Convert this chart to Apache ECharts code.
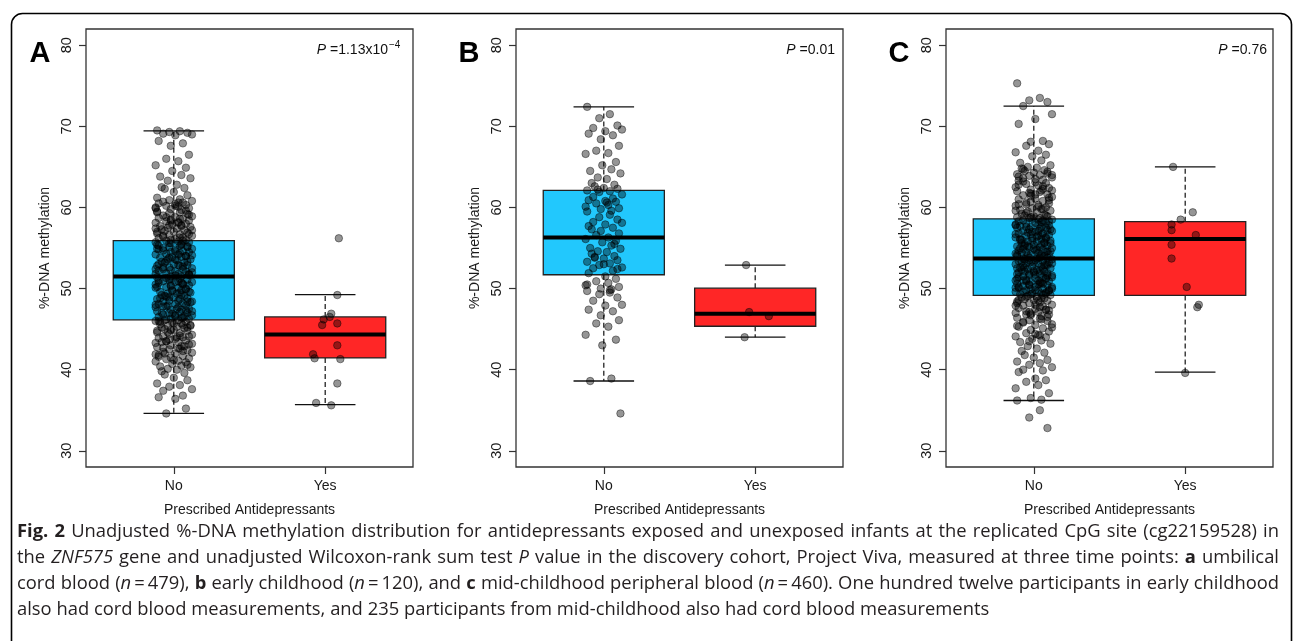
<!DOCTYPE html>
<html><head><meta charset="utf-8">
<script src="https://cdn.jsdelivr.net/npm/echarts@6/dist/echarts.min.js"></script>
<style>html,body{margin:0;padding:0;background:#fff}#c{width:1295px;height:641px}</style>
</head><body><div id="c"></div>
<script>
// ---------- data ----------
const categories = ['No', 'Yes'];
const yTicks = [30, 40, 50, 60, 70, 80];
const panelLetters = ['A', 'B', 'C'];
const pValues = ['1.13x10', '0.01', '0.76'];
const pExponent = ['−4', '', ''];

// box stats: [lower whisker, Q1, median, Q3, upper whisker]
const boxA = [[34.6, 46.15, 51.5, 55.9, 69.45], [35.7, 41.45, 44.35, 46.5, 49.25]];
const boxB = [[38.6, 51.7, 56.3, 62.1, 72.4], [44.0, 45.35, 46.9, 50.05, 52.9]];
const boxC = [[36.2, 49.15, 53.7, 58.6, 72.5], [39.7, 49.15, 56.1, 58.25, 65.0]];

// jitter offsets (category units) for the large groups
const jit = [-0.11,0.04,-0.03,0.09,-0.07,0.12,0.01,-0.10,0.06,-0.02,0.10,-0.05,0.03,-0.12,0.08,-0.01,0.05,-0.09,0.11,-0.04,0.02,-0.08,0.07,-0.06,0.00,0.09,-0.11,0.04,-0.03,0.12,-0.07,0.06,-0.10,0.01,0.08,-0.05,0.03,-0.12,0.10,-0.02,0.05];

const aNo = [69.5,69.4,69.3,69.2,69.1,69.0,68.9,68.2,67.9,67.6,66.5,66.0,65.7,65.2,64.9,64.5,64.0,63.8,63.6,63.3,62.8,62.5,62.4,62.3,61.9,61.5,61.2,61.0,60.9,60.8,60.7,60.6,60.5,60.4,60.3,60.2,60.1,60.0,59.9,59.8,59.7,59.5,59.4,59.3,59.2,59.0,58.9,58.8,58.7,58.6,58.5,58.4,58.3,58.2,58.1,58.0,57.9,57.8,57.7,57.6,57.5,57.4,57.3,57.2,57.1,57.0,56.9,56.8,56.7,56.6,56.5,56.4,56.3,56.2,56.1,56.0,
55.9,55.8,55.7,55.7,55.6,55.4,55.4,55.3,55.1,55.1,55.0,54.9,54.8,54.8,54.6,54.5,54.5,54.3,54.2,54.2,54.0,53.9,53.9,53.8,53.6,53.6,53.5,53.3,53.2,53.2,53.0,52.9,52.8,52.8,52.6,52.5,52.4,52.4,52.2,52.1,52.1,51.9,51.8,51.8,51.7,51.5,51.5,51.4,51.2,51.1,51.1,50.9,50.8,50.8,50.7,50.5,50.4,50.4,50.2,50.1,50.1,49.9,49.8,49.8,49.6,49.5,49.4,49.4,49.2,49.1,49.1,48.9,48.8,48.7,48.7,48.5,48.4,48.4,48.2,48.1,48.1,47.9,47.8,47.7,47.7,47.5,47.4,47.4,47.2,47.1,47.0,47.0,46.8,46.7,46.7,46.5,46.4,46.3,46.3,46.2,
46.1,46.0,45.9,45.8,45.7,45.6,45.5,45.4,45.3,45.2,45.1,45.0,44.9,44.8,44.6,44.5,44.4,44.3,44.1,44.0,43.9,43.8,43.6,43.5,43.4,43.3,43.1,43.0,42.9,42.8,42.6,42.5,42.4,42.2,42.1,42.0,41.8,41.7,41.5,41.4,41.3,41.1,41.0,40.9,40.7,40.5,40.4,40.3,40.1,40.0,39.8,39.6,39.4,39.0,38.7,38.3,38.1,37.9,37.6,37.4,36.8,36.6,36.4,35.2,34.6,
60.6,59.9,59.1,58.4,57.7,57.0,56.3,55.6,55.2,54.7,54.1,53.6,53.0,52.7,52.3,51.8,51.3,50.9,50.5,50.0,49.7,49.2,48.8,48.3,47.9,47.5,47.0,46.6,46.1,45.7,45.2,44.8,44.2,43.7,43.2,42.7,42.3,41.6,
60.2,59.6,58.8,58.1,57.4,56.7,56.0,55.5,54.9,54.4,53.8,53.3,52.6,52.0,51.6,51.0,50.6,50.3,49.6,49.0,48.5,48.0,47.3,46.9,46.4,45.9,45.4,44.6,44.0,43.4,42.9,42.0,41.2,40.6,
59.4,58.6,57.8,57.2,56.5,55.9,55.3,54.6,54.0,53.4,52.9,52.4,51.7,51.2,50.7,50.2,49.5,48.9,48.4,47.8,47.2,46.6,46.0,45.5,44.9,44.1,43.5,42.6,41.9];
const aYes = [56.2,49.2,46.9,46.5,46.2,45.7,45.5,43.0,41.9,41.4,41.3,38.3,35.9,35.6];
const aYesJit = [0.09,0.08,0.04,0.03,-0.01,0.08,-0.02,0.08,-0.08,-0.07,0.10,0.08,-0.06,0.04];

const bNo = [72.4,71.5,71.0,70.1,69.8,69.6,69.4,69.1,68.9,68.4,67.6,67.0,66.7,66.6,65.6,65.2,64.7,64.5,64.2,63.7,63.5,63.0,62.8,62.6,62.4,62.3,62.1,62.0,61.9,61.6,61.3,61.1,60.9,60.8,60.7,60.5,60.3,60.1,59.9,59.8,59.6,59.5,59.1,58.8,58.5,58.2,58.1,57.9,57.7,57.5,57.1,56.8,56.6,56.3,56.1,55.9,55.7,55.3,55.0,54.9,54.6,54.5,54.3,54.0,53.9,53.7,53.5,53.3,53.1,52.9,52.6,52.5,52.2,51.9,51.5,51.2,50.9,50.7,50.4,50.2,50.0,49.9,49.7,49.5,49.3,48.9,48.5,48.0,47.9,47.4,47.2,46.7,46.1,45.7,45.3,44.3,43.7,43.0,38.9,38.6,34.6,
62.2,60.6,57.3,55.5,53.8,53.0,52.4,50.5,49.8];
const bYes = [52.9,47.1,46.6,44.0];
const bYesJit = [-0.06,-0.04,0.09,-0.07];

const cNo = [75.3,73.5,73.2,73.0,72.5,71.5,70.9,70.3,68.2,68.1,67.8,67.6,67.0,66.8,66.5,66.3,65.8,65.5,65.2,65.0,64.9,64.8,64.6,64.5,64.3,64.2,64.1,64.0,63.9,63.7,63.6,63.4,63.3,63.1,63.0,62.9,62.7,62.5,62.4,62.2,62.1,62.0,61.9,61.8,61.6,61.5,61.3,61.1,61.0,60.8,60.7,60.5,60.4,60.3,60.2,60.0,59.9,59.8,59.7,59.6,59.5,59.4,59.2,59.1,59.0,58.9,58.9,58.8,58.7,58.7,
58.5,58.4,58.4,58.3,58.1,58.1,58.0,57.9,57.8,57.8,57.6,57.6,57.5,57.4,57.3,57.2,57.1,57.1,57.0,56.8,56.8,56.7,56.6,56.5,56.5,56.3,56.2,56.2,56.1,56.0,55.9,55.8,55.8,55.6,55.6,55.5,55.4,55.3,55.2,55.1,55.1,55.0,54.9,54.8,54.7,54.7,54.5,54.5,54.4,54.3,54.2,54.2,54.1,54.0,53.9,53.8,53.8,53.7,53.6,53.5,53.4,53.4,53.3,53.2,53.1,53.1,53.0,52.9,52.7,52.7,52.6,52.5,52.4,52.3,52.3,52.1,52.1,52.0,51.9,51.8,51.8,51.7,51.6,51.5,51.4,51.4,51.3,51.2,51.1,51.0,51.0,50.9,50.8,50.7,50.6,50.6,50.5,50.4,50.3,50.2,50.2,50.1,50.0,49.9,49.8,49.8,49.7,49.6,49.5,49.4,49.4,49.3,49.2,
49.1,49.0,48.9,48.8,48.7,48.6,48.5,48.4,48.3,48.2,48.0,47.9,47.8,47.6,47.5,47.4,47.2,47.1,47.0,46.8,46.7,46.6,46.4,46.3,46.1,46.0,45.8,45.6,45.5,45.3,45.1,44.9,44.7,44.5,44.3,44.1,44.0,43.8,43.6,43.4,43.2,42.9,42.6,42.3,42.1,41.8,41.5,41.2,41.0,40.8,40.6,40.3,40.0,39.9,39.7,38.9,38.7,38.5,38.1,37.7,37.1,36.5,36.3,36.2,35.0,34.1,32.8,
64.7,64.0,63.5,62.8,62.3,61.7,61.2,60.6,60.1,59.6,59.0,58.6,58.2,57.7,57.3,56.9,56.4,56.0,55.7,55.3,54.9,54.6,54.2,53.8,53.5,53.1,52.8,52.4,52.0,51.7,51.3,50.9,50.5,50.1,49.7,49.3,48.8,48.2,47.7,47.1,46.5,45.9,45.2,44.4,
63.8,62.6,61.4,60.9,59.3,58.5,57.9,57.5,57.0,56.6,56.1,55.6,55.2,54.8,54.4,54.0,53.6,53.2,52.9,52.5,52.2,51.8,51.4,51.0,50.6,50.2,49.8,49.4,49.0,48.5,47.9,47.3,46.9,46.2,45.4,44.2,43.5,
64.4,63.2,62.1,61.6,60.4,59.8,58.8,58.3,57.6,57.1,56.7,56.3,55.9,55.4,55.0,54.6,54.1,53.7,53.3,52.9,52.6,52.2,51.6,51.2,50.8,50.4,50.0,49.6,49.2,48.6,48.0,47.4,46.8];
const cYes = [65.0,59.4,58.5,57.9,57.2,56.6,55.4,53.7,50.2,48.0,47.7,39.6];
const cYesJit = [-0.08,0.05,-0.03,-0.09,-0.09,0.07,-0.09,-0.09,0.01,0.09,0.08,0.00];

const captionLines = [
  [['Fig. 2','b'],[' Unadjusted %-DNA methylation distribution for antidepressants exposed and unexposed infants at the replicated CpG site (cg22159528) in','']],
  [['the ',''],['ZNF575','i'],[' gene and unadjusted Wilcoxon-rank sum test ',''],['P','i'],[' value in the discovery cohort, Project Viva, measured at three time points: ',''],['a','b'],[' umbilical','']],
  [['cord blood (',''],['n','i'],['\u2009=\u2009479), ',''],['b','b'],[' early childhood (',''],['n','i'],['\u2009=\u2009120), and ',''],['c','b'],[' mid-childhood peripheral blood (',''],['n','i'],['\u2009=\u2009460). One hundred twelve participants in early childhood','']],
  [['also had cord blood measurements, and 235 participants from mid-childhood also had cord blood measurements','']]
];

// ---------- layout / style ----------
const BLUE = '#22C8FD', RED = '#FF2626';
const AX_FONT = 'Liberation Sans';
const gridLefts = [86, 516, 946];
const GRID_TOP = 29, GRID_W = 327, GRID_H = 438;

const chart = echarts.init(document.getElementById('c'), null, {renderer: 'canvas'});

function renderBox(params, api) {
  const x = api.value(0);
  const vals = [1,2,3,4,5].map(k => api.value(k));
  const p = vals.map(v => api.coord([x, v]));
  const hw = api.size([0.4, 0])[0];
  const cw = hw / 2;
  const cx = p[0][0];
  const fill = params.dataIndex === 0 ? BLUE : RED;
  const dash = {stroke: '#111', lineWidth: 1.2, lineDash: [5, 3]};
  const solid = {stroke: '#111', lineWidth: 1.3};
  return {type: 'group', children: [
    {type: 'line', shape: {x1: cx, y1: p[3][1], x2: cx, y2: p[4][1]}, style: dash},
    {type: 'line', shape: {x1: cx, y1: p[1][1], x2: cx, y2: p[0][1]}, style: dash},
    {type: 'line', shape: {x1: cx - cw, y1: p[4][1], x2: cx + cw, y2: p[4][1]}, style: solid},
    {type: 'line', shape: {x1: cx - cw, y1: p[0][1], x2: cx + cw, y2: p[0][1]}, style: solid},
    {type: 'rect', shape: {x: cx - hw, y: p[3][1], width: 2 * hw, height: p[1][1] - p[3][1]}, style: {fill: fill, stroke: '#222', lineWidth: 1.3}},
    {type: 'line', shape: {x1: cx - hw, y1: p[2][1], x2: cx + hw, y2: p[2][1]}, style: {stroke: '#000', lineWidth: 4}}
  ]};
}

const panels = [
  {box: boxA, no: aNo, yes: aYes, yesJit: aYesJit},
  {box: boxB, no: bNo, yes: bYes, yesJit: bYesJit},
  {box: boxC, no: cNo, yes: cYes, yesJit: cYesJit}
];

const grids = [], xAxes = [], yAxes = [], series = [];
panels.forEach((pn, i) => {
  grids.push({left: gridLefts[i], top: GRID_TOP, width: GRID_W, height: GRID_H, show: true,
    borderColor: '#333', borderWidth: 1.3, backgroundColor: 'transparent', containLabel: false});
  xAxes.push({gridIndex: i, type: 'value', min: 0.42, max: 2.58, splitLine: {show: false},
    axisLine: {show: false},
    axisTick: {show: true, length: 7, inside: false, customValues: [1, 2], lineStyle: {color: '#333', width: 1.2}},
    axisLabel: {show: true, customValues: [1, 2], margin: 12, fontSize: 14, fontFamily: AX_FONT, color: '#1a1a1a',
      formatter: v => categories[Math.round(v) - 1]},
    name: 'Prescribed Antidepressants', nameLocation: 'middle', nameGap: 36,
    nameTextStyle: {fontSize: 14, fontFamily: AX_FONT, color: '#1a1a1a'}});
  yAxes.push({gridIndex: i, type: 'value', min: 28, max: 82, splitLine: {show: false},
    axisLine: {show: false},
    axisTick: {show: true, length: 7, inside: false, customValues: yTicks, lineStyle: {color: '#333', width: 1.2}},
    axisLabel: {show: true, customValues: yTicks, rotate: 90, margin: 12, fontSize: 14.5, fontFamily: AX_FONT, color: '#1a1a1a'},
    name: '%-DNA methylation', nameLocation: 'middle', nameRotate: 90, nameGap: 34,
    nameTextStyle: {fontSize: 14, fontFamily: AX_FONT, color: '#1a1a1a'}});
  series.push({type: 'custom', xAxisIndex: i, yAxisIndex: i, renderItem: renderBox, z: 2,
    encode: {x: 0, y: [1, 2, 3, 4, 5]},
    data: pn.box.map((b, k) => [k + 1].concat(b)), silent: true});
  const ptStyle = {color: 'rgba(0,0,0,0.52)', borderColor: 'rgba(0,0,0,0.65)', borderWidth: 0.8};
  series.push({type: 'scatter', xAxisIndex: i, yAxisIndex: i, z: 3, symbolSize: 7.5, itemStyle: ptStyle, silent: true,
    data: pn.no.map((v, k) => [1 + jit[k % jit.length], v])});
  series.push({type: 'scatter', xAxisIndex: i, yAxisIndex: i, z: 3, symbolSize: 7.5, itemStyle: ptStyle, silent: true,
    data: pn.yes.map((v, k) => [2 + pn.yesJit[k], v])});
});

// ---------- graphic texts ----------
const graphics = [];
graphics.push({type: 'rect', left: 9, top: 11, z: 0, silent: true,
  shape: {x: 0, y: 0, width: 1280, height: 650, r: 11},
  style: {fill: 'none', stroke: '#000', lineWidth: 1.6}});

const letterX = [40, 469, 899];
const pRight = [388, 835, 1267];
panels.forEach((pn, i) => {
  graphics.push({type: 'text', x: letterX[i], y: 54, z: 10, silent: true,
    style: {text: panelLetters[i], fontSize: 29, fontWeight: 'bold', fontFamily: AX_FONT, fill: '#000',
      align: 'center', verticalAlign: 'middle', textAlign: 'center', textVerticalAlign: 'middle'}});
  graphics.push({type: 'text', x: pRight[i], y: 50, z: 10, silent: true,
    style: {text: '{i|P} =' + pValues[i], rich: {i: {fontStyle: 'italic', fontSize: 14, fontFamily: AX_FONT, fill: '#111'}},
      fontSize: 14, fontFamily: AX_FONT, fill: '#111',
      align: 'right', verticalAlign: 'middle', textAlign: 'right', textVerticalAlign: 'middle'}});
  if (pExponent[i]) {
    graphics.push({type: 'text', x: pRight[i] + 1, y: 45, z: 10, silent: true,
      style: {text: pExponent[i], fontSize: 10, fontFamily: AX_FONT, fill: '#111',
        align: 'left', verticalAlign: 'middle', textAlign: 'left', textVerticalAlign: 'middle'}});
  }
});

// caption: justified lines
const CAP_FONT = 'Open Sans', CAP_X0 = 17, CAP_X1 = 1279;
let CAP_SIZE = 19;
const capY = [532, 558, 584, 610];
const mctx = document.createElement('canvas').getContext('2d');
function fontOf(st) {
  return (st === 'i' ? 'italic ' : 'normal ') + (st === 'b' ? 'bold ' : 'normal ') + CAP_SIZE + 'px "' + CAP_FONT + '"';
}
function segWidth(t, st) { mctx.font = fontOf(st); return mctx.measureText(t).width; }
const capWords = captionLines.map(line => {
  const words = [];
  let cur = [];
  line.forEach(([txt, st]) => {
    txt.split(' ').forEach((part, j) => {
      if (j > 0 && cur.length) { words.push(cur); cur = []; }
      if (part !== '') cur.push([part, st]);
    });
  });
  if (cur.length) words.push(cur);
  return words;
});
// shrink font if a line would not fit with normal spacing
(function fit() {
  let maxNat = 0;
  capWords.forEach(words => {
    const tot = words.reduce((s, w) => s + w.reduce((a, [t, st]) => a + segWidth(t, st), 0), 0) + segWidth(' ', '') * (words.length - 1);
    maxNat = Math.max(maxNat, tot);
  });
  const W = CAP_X1 - CAP_X0;
  if (maxNat > W) CAP_SIZE = CAP_SIZE * W / maxNat * 0.995;
})();
capWords.forEach((words, li) => {
  const widths = words.map(w => w.reduce((s, [t, st]) => s + segWidth(t, st), 0));
  const total = widths.reduce((a, b) => a + b, 0);
  const last = li === capWords.length - 1;
  const gap = last ? segWidth(' ', '') : (CAP_X1 - CAP_X0 - total) / (words.length - 1);
  let x = CAP_X0;
  words.forEach(w => {
    w.forEach(([t, st]) => {
      graphics.push({type: 'text', x: x, y: capY[li], z: 10, silent: true,
        style: {text: t, fontSize: CAP_SIZE, fontFamily: CAP_FONT,
          fontStyle: st === 'i' ? 'italic' : 'normal', fontWeight: st === 'b' ? 'bold' : 'normal',
          fill: '#231f20', align: 'left', verticalAlign: 'middle', textAlign: 'left', textVerticalAlign: 'middle'}});
      x += segWidth(t, st);
    });
    x += gap;
  });
});

chart.setOption({
  animation: false,
  backgroundColor: '#fff',
  grid: grids, xAxis: xAxes, yAxis: yAxes, series: series, graphic: graphics
});
</script>
</body></html>
